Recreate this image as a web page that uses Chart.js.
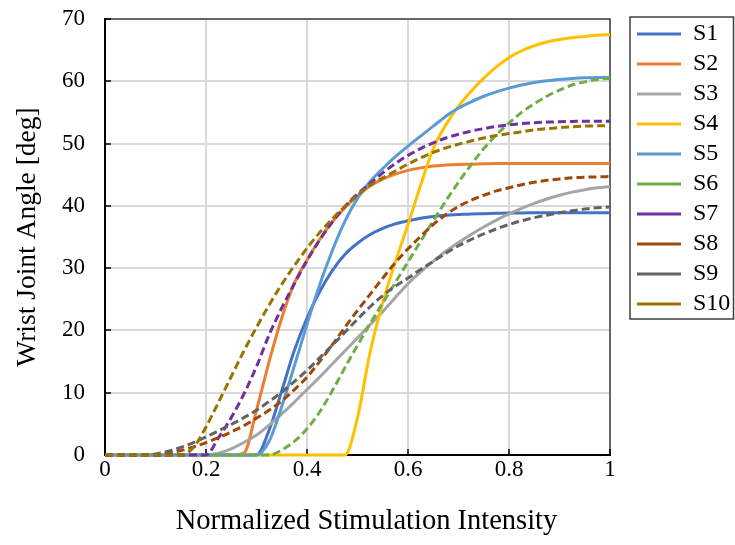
<!DOCTYPE html>
<html>
<head>
<meta charset="utf-8">
<title>Wrist joint angle</title>
<script src="https://cdn.jsdelivr.net/npm/chart.js@4"></script>
<style>
    html, body { margin: 0; padding: 0; background: #ffffff; }
</style>
</head>
<body>
<canvas id="main-chart" width="735" height="545"></canvas>
<script>
// Stimulation intensity, sampled every 0.025
const intensity = [0, 0.025, 0.05, 0.075, 0.1, 0.125, 0.15, 0.175, 0.2, 0.225, 0.25, 0.275, 0.3, 0.325, 0.35, 0.375, 0.4, 0.425, 0.45, 0.475, 0.5, 0.525, 0.55, 0.575, 0.6, 0.625, 0.65, 0.675, 0.7, 0.725, 0.75, 0.775, 0.8, 0.825, 0.85, 0.875, 0.9, 0.925, 0.95, 0.975, 1];

// Wrist joint angle [deg] for each subject
const s1 = [0, 0, 0, 0, 0, 0, 0, 0, 0, 0, 0, 0, 0, 4.0, 10.3, 16.8, 22.0, 26.2, 29.6, 32.2, 34.0, 35.4, 36.4, 37.1, 37.6, 38.0, 38.3, 38.5, 38.6, 38.7, 38.75, 38.8, 38.85, 38.85, 38.9, 38.9, 38.9, 38.9, 38.9, 38.9, 38.9];
const s2 = [0, 0, 0, 0, 0, 0, 0, 0, 0, 0, 0, 0.3, 7.2, 15.0, 22.0, 27.6, 31.3, 34.6, 37.4, 39.7, 41.6, 43.2, 44.3, 45.1, 45.7, 46.1, 46.4, 46.55, 46.65, 46.7, 46.75, 46.8, 46.8, 46.8, 46.8, 46.8, 46.8, 46.8, 46.8, 46.8, 46.8];
const s3 = [0, 0, 0, 0, 0, 0, 0, 0, 0, 0.3, 1.0, 2.0, 3.2, 4.8, 6.6, 8.5, 10.5, 12.5, 14.6, 16.7, 18.8, 20.9, 23.0, 25.3, 27.5, 29.4, 31.1, 32.7, 34.1, 35.4, 36.6, 37.7, 38.7, 39.6, 40.4, 41.1, 41.7, 42.2, 42.6, 42.9, 43.1];
const s4 = [0, 0, 0, 0, 0, 0, 0, 0, 0, 0, 0, 0, 0, 0, 0, 0, 0, 0, 0, 0, 6.0, 16.5, 24.5, 31.0, 37.0, 43.3, 49.2, 53.0, 56.0, 58.4, 60.5, 62.3, 63.8, 64.9, 65.7, 66.3, 66.7, 67.0, 67.2, 67.4, 67.5];
const s5 = [0, 0, 0, 0, 0, 0, 0, 0, 0, 0, 0, 0, 0, 2.2, 7.8, 14.3, 21.0, 27.3, 32.8, 37.5, 41.2, 43.9, 46.0, 47.9, 49.6, 51.2, 52.8, 54.4, 55.7, 56.7, 57.6, 58.3, 58.9, 59.4, 59.8, 60.1, 60.3, 60.45, 60.55, 60.6, 60.65];
const s6 = [0, 0, 0, 0, 0, 0, 0, 0, 0, 0, 0, 0, 0, 0, 0.8, 2.2, 4.2, 6.9, 10.3, 14.0, 17.6, 21.1, 24.4, 27.7, 31.0, 34.3, 37.6, 40.8, 43.8, 46.6, 49.2, 51.4, 53.3, 55.0, 56.4, 57.6, 58.6, 59.4, 59.9, 60.3, 60.5];
const s7 = [0, 0, 0, 0, 0, 0, 0, 0, 0, 2.8, 6.0, 9.8, 14.2, 19.3, 23.6, 27.5, 31.2, 34.5, 37.4, 39.9, 41.9, 43.6, 45.3, 46.8, 48.1, 49.2, 50.1, 50.9, 51.5, 52.0, 52.4, 52.75, 53.0, 53.2, 53.35, 53.45, 53.5, 53.55, 53.6, 53.6, 53.6];
const s8 = [0, 0, 0, 0, 0, 0.3, 0.7, 1.3, 2.0, 2.8, 3.7, 4.7, 5.9, 7.2, 8.7, 10.5, 12.5, 15.0, 17.7, 20.5, 23.2, 25.8, 28.4, 30.9, 33.1, 35.1, 37.0, 38.6, 39.9, 40.9, 41.7, 42.4, 42.9, 43.4, 43.8, 44.1, 44.3, 44.5, 44.6, 44.65, 44.7];
const s9 = [0, 0, 0, 0, 0.15, 0.6, 1.2, 2.0, 2.9, 3.9, 4.9, 6.0, 7.2, 8.6, 10.1, 11.8, 13.6, 15.6, 17.6, 19.7, 21.8, 23.8, 25.6, 27.1, 28.4, 29.8, 31.1, 32.4, 33.6, 34.6, 35.5, 36.3, 37.0, 37.6, 38.1, 38.5, 38.9, 39.2, 39.5, 39.7, 39.8];
const s10 = [0, 0, 0, 0, 0, 0, 0, 1.2, 4.5, 8.5, 12.6, 16.7, 20.5, 24.1, 27.4, 30.4, 33.2, 35.7, 37.9, 39.9, 41.7, 43.3, 44.5, 45.6, 46.7, 47.7, 48.6, 49.3, 49.9, 50.4, 50.9, 51.3, 51.6, 51.9, 52.2, 52.4, 52.55, 52.7, 52.8, 52.85, 52.9];

const seriesNames = ["S1", "S2", "S3", "S4", "S5", "S6", "S7", "S8", "S9", "S10"];
const seriesValues = [s1, s2, s3, s4, s5, s6, s7, s8, s9, s10];
const seriesColors = ["#4472C4", "#ED7D31", "#A5A5A5", "#FFC000", "#5B9BD5", "#70AD47", "#7030A0", "#9E480E", "#636363", "#997300"];
const seriesDashed = [false, false, false, false, false, true, true, true, true, true];

const xTitle = "Normalized Stimulation Intensity";
const yTitle = "Wrist Joint Angle [deg]";

Chart.defaults.font.family = "'Liberation Serif', 'Times New Roman', serif";
Chart.defaults.color = "#000000";

// Frame, inside tick marks, x title and the legend box
const framePlugin = {
    id: "frame",
    beforeDatasetsDraw(chart) {
        const { ctx, chartArea: area, scales } = chart;
        ctx.save();
        ctx.strokeStyle = "#404040";
        ctx.lineWidth = 1.5;
        ctx.beginPath();
        ctx.moveTo(area.left, area.top);
        ctx.lineTo(area.right, area.top);
        ctx.lineTo(area.right, area.bottom);
        ctx.stroke();

        ctx.strokeStyle = "#000000";
        ctx.lineWidth = 1.5;
        ctx.beginPath();
        scales.x.ticks.forEach((tick) => {
            const px = Math.round(scales.x.getPixelForValue(tick.value));
            ctx.moveTo(px, area.bottom);
            ctx.lineTo(px, area.bottom - 6);
        });
        scales.y.ticks.forEach((tick) => {
            const py = Math.round(scales.y.getPixelForValue(tick.value));
            ctx.moveTo(area.left, py);
            ctx.lineTo(area.left + 6, py);
        });
        ctx.stroke();

        // x axis title, centred a little right of the plot like the original
        ctx.fillStyle = "#000000";
        ctx.font = "28.5px 'Liberation Serif', 'Times New Roman', serif";
        ctx.textAlign = "center";
        ctx.textBaseline = "middle";
        ctx.fillText(xTitle, (area.left + area.right) / 2 + 9, 522);
        ctx.restore();
    },
    afterDraw(chart) {
        const boxes = chart.legend.legendHitBoxes;
        if (!boxes || !boxes.length) {
            return;
        }
        const first = boxes[0];
        const last = boxes[boxes.length - 1];
        const { ctx } = chart;
        const left = first.left - 7;
        const top = first.top - 5;
        ctx.save();
        ctx.strokeStyle = "#404040";
        ctx.lineWidth = 1.5;
        ctx.strokeRect(left, top, chart.width - 1.5 - left, last.top + last.height + 3 - top);
        ctx.restore();
    },
};

// Fixed legend width so the plot area keeps its place
const legendWidth = {
    id: "legendWidth",
    beforeInit(chart) {
        const fit = chart.legend.fit;
        chart.legend.fit = function () {
            fit.call(this);
            this.width = 104;
        };
    },
};

const chartCanvas = document.getElementById("main-chart");

const wristChart = new Chart(chartCanvas, {
    type: "line",
    data: {
        datasets: seriesValues.map((values, i) => ({
            label: seriesNames[i],
            data: intensity.map((x, j) => ({ x: x, y: values[j] })),
            borderColor: seriesColors[i],
            backgroundColor: seriesColors[i],
            borderWidth: 3,
            borderDash: seriesDashed[i] ? [8, 4] : [],
            pointRadius: 0,
            cubicInterpolationMode: "monotone",
            clip: 6,
            order: seriesNames.length - i,
        })),
    },
    options: {
        responsive: false,
        animation: false,
        layout: {
            padding: { top: 16, right: 0, bottom: 0, left: 0 },
        },
        scales: {
            x: {
                type: "linear",
                min: 0,
                max: 1,
                ticks: {
                    stepSize: 0.2,
                    padding: 1,
                    font: { size: 23 },
                    callback: (value) => (value === 0 || value === 1 ? String(value) : value.toFixed(1)),
                },
                grid: { color: "#d9d9d9", lineWidth: 2, drawTicks: false },
                border: { color: "#000000", width: 2 },
                afterFit(scale) {
                    scale.height = 90;
                },
            },
            y: {
                min: 0,
                max: 70,
                ticks: {
                    stepSize: 10,
                    padding: 20,
                    font: { size: 23 },
                },
                grid: { color: "#d9d9d9", lineWidth: 2, drawTicks: false },
                border: { color: "#000000", width: 2 },
                title: {
                    display: true,
                    text: yTitle,
                    font: { size: 27.5 },
                    padding: { top: 11, bottom: 0 },
                },
                afterFit(scale) {
                    scale.width = 105;
                    scale.paddingTop = 19;
                },
            },
            gap: {
                type: "linear",
                position: "right",
                display: true,
                grid: { display: false },
                ticks: { display: false },
                border: { display: false },
                afterFit(scale) {
                    scale.width = 21;
                },
            },
        },
        plugins: {
            tooltip: { enabled: false },
            legend: {
                position: "right",
                align: "start",
                labels: {
                    usePointStyle: true,
                    pointStyle: "line",
                    pointStyleWidth: 44,
                    boxWidth: 44,
                    padding: 6,
                    color: "#000000",
                    font: { size: 24 },
                    sort: (a, b) => a.datasetIndex - b.datasetIndex,
                },
            },
        },
    },
    plugins: [framePlugin, legendWidth],
});

wristChart.update();
</script>
</body>
</html>
